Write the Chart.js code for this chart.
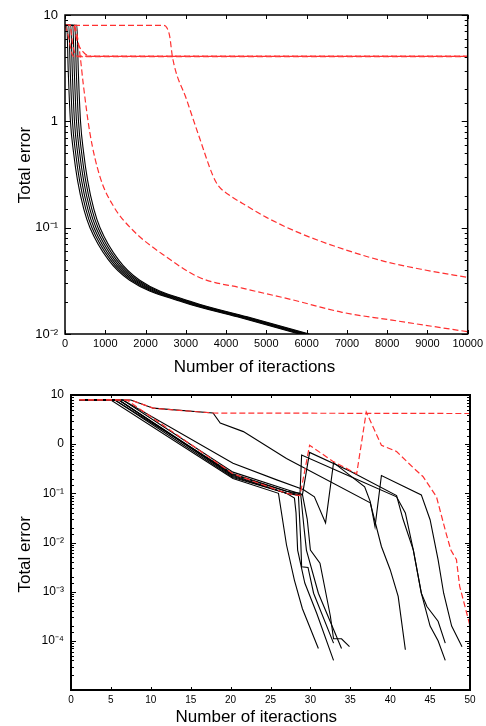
<!DOCTYPE html>
<html>
<head>
<meta charset="utf-8">
<script src="https://cdn.jsdelivr.net/npm/chart.js@4/dist/chart.umd.min.js"></script>
<style>
html, body { margin: 0; padding: 0; background: #fff; }
#topBox { position: absolute; left: 0; top: 0; width: 486px; height: 380px; }
#botBox { position: absolute; left: 0; top: 380px; width: 486px; height: 346px; }
</style>
</head>
<body>
<div id="topBox"><canvas id="topChart" width="486" height="380"></canvas></div>
<div id="botBox"><canvas id="botChart" width="486" height="346"></canvas></div>
<script>
// ---------- top chart: 0..10000 iterations ----------
const topYExps = [1, 0, -1, -2];
const topYLabels = ["10", "1", "10\u207B\u00B9", "10\u207B\u00B2"];

// black runs share the same error levels, each with its own iteration counts
const topBlackLevels = [8, 8, 3, 1, 0.5, 0.28, 0.15, 0.1, 0.05, 0.032, 0.02, 0.0145, 0.01];
const topBlackRuns = [
    [0, 45, 80, 135, 215, 310, 465, 620, 1075, 1605, 2915, 4275, 5815],
    [0, 95, 130, 185, 265, 360, 515, 670, 1125, 1655, 2965, 4325, 5865],
    [0, 145, 180, 235, 315, 410, 565, 720, 1175, 1705, 3015, 4375, 5915],
    [0, 195, 230, 285, 365, 460, 615, 770, 1225, 1755, 3065, 4425, 5965],
    [0, 245, 280, 335, 415, 510, 665, 820, 1275, 1805, 3115, 4475, 6015],
    [0, 295, 330, 385, 465, 560, 715, 870, 1325, 1855, 3165, 4525, 6065]
];
const topRedLate = [[0, 8], [2450, 8], [2530, 7.6], [2600, 6.3], [2670, 4.0], [3020, 1.6], [3340, 0.70],
    [3670, 0.31], [3800, 0.25], [4100, 0.2], [4400, 0.17], [5000, 0.125], [5890, 0.087], [6960, 0.062],
    [7950, 0.048], [8940, 0.04], [10000, 0.034]];
const topRedEarly = [[0, 8], [220, 8], [300, 6.5], [380, 4], [450, 2.3], [620, 0.77], [870, 0.30], [1200, 0.16],
    [1680, 0.095], [2520, 0.053], [3340, 0.034], [4400, 0.027], [5640, 0.021], [6880, 0.016], [8120, 0.0135], [10000, 0.0105]];
const topRedFlat1 = [[0, 8], [75, 6.5], [175, 4.3], [250, 4.05], [10000, 4.05]];
const topRedFlat2 = [[0, 8], [200, 8], [320, 5.4], [450, 4.5], [540, 4.2], [700, 4.08], [10000, 4.08]];
const topRedFlat3 = [[0, 8], [120, 8], [200, 5], [300, 4.1], [10000, 4.1]];

// ---------- bottom chart: 0..50 iterations ----------
const botYExps = [1, 0, -1, -2, -3, -4];
const botYLabels = ["10", "0", "10\u207B\u00B9", "10\u207B\u00B2", "10\u207B\u00B3", "10\u207B\u2074"];

const botRedFlat = [[1, 8], [7.5, 7.9], [10.3, 5.4], [17.8, 4.3], [50, 4.2]];
const botRedSpike = [[1, 8], [7, 7.9], [20.3, 0.25], [27, 0.1], [28.7, 0.09], [29.9, 0.95], [32.8, 0.45], [35.8, 0.25],
    [37, 4.5], [38.9, 0.95], [40.8, 0.71], [42.9, 0.33], [44.1, 0.22], [45.8, 0.085], [47, 0.0155], [47.6, 0.007],
    [48.3, 0.0045], [48.7, 0.0013], [49.6, 0.00036], [50, 0.0002]];
const botU1 = [[1, 8], [7.5, 7.9], [10.3, 5.4], [17.8, 4.3], [18.7, 2.7], [21.6, 1.8], [27, 0.51], [37.5, 0.064],
    [38.9, 0.0083], [40, 0.0028], [41, 0.0008], [41.9, 0.000066]];
const botU2 = [[1, 8], [6.5, 7.9], [20.3, 0.41], [25.7, 0.19], [29.1, 0.12], [30.5, 0.085], [31.9, 0.025], [32.9, 0.42],
    [36.8, 0.135], [37.5, 0.068], [38.1, 0.021], [38.9, 0.23], [43.9, 0.093], [45, 0.029], [46, 0.0045],
    [46.7, 0.00093], [47.7, 0.0002], [49, 0.000076]];
const botP1 = [[1, 8], [5.5, 7.9], [20.3, 0.25], [27, 0.11], [28.7, 0.1], [28.9, 0.6], [35, 0.22], [40.8, 0.085],
    [41.9, 0.04], [42.9, 0.007], [43.9, 0.00093], [45, 0.0002], [46, 0.0001], [46.9, 0.00004]];
const botP2 = [[1, 8], [6, 7.9], [20.3, 0.23], [27, 0.1], [29, 0.093], [29.9, 0.68], [35, 0.28], [40.8, 0.09],
    [41.6, 0.03], [42.9, 0.007], [43.9, 0.00093], [44.6, 0.0005], [46, 0.00025], [46.9, 0.00009]];
const botB1 = [[1, 8], [5, 7.9], [20.3, 0.2], [26, 0.1], [27, 0.009], [28, 0.0017], [29, 0.00045], [31, 0.00007]];
const botB2 = [[1, 8], [5.5, 7.9], [20.3, 0.21], [27, 0.1], [28, 0.08], [28.2, 0.04], [28.4, 0.007], [29.3, 0.0015],
    [30.8, 0.00036], [32.9, 0.00004]];
const botB3 = [[1, 8], [6, 7.9], [20.3, 0.22], [27, 0.1], [28.5, 0.09], [28.8, 0.01], [28.9, 0.0032], [29.7, 0.0031],
    [30.4, 0.00093], [32.9, 0.00009]];
const botB4 = [[1, 8], [6, 7.9], [20.3, 0.24], [27, 0.11], [28.8, 0.09], [29.2, 0.02], [29.5, 0.007], [31, 0.00093],
    [33.9, 0.00007]];
const botB5 = [[1, 8], [6.5, 7.9], [20.3, 0.27], [27, 0.12], [29, 0.095], [29.6, 0.03], [30, 0.007], [31.2, 0.0038],
    [32.5, 0.00032], [32.9, 0.00011], [33.9, 0.00011], [34.9, 0.000076]];

const RED = "#ff3030";
Chart.defaults.font.family = "'Liberation Sans', Arial, sans-serif";
Chart.defaults.color = "#000";

function pts(arr) {
    return arr.map(p => ({ x: p[0], y: p[1] }));
}
function redSet(arr, smooth) {
    return { data: pts(arr), borderColor: RED, borderWidth: 1.2, borderDash: [6, 3], pointRadius: 0,
        cubicInterpolationMode: smooth ? "monotone" : "default", tension: 0 };
}
function blackSet(arr, smooth) {
    return { data: pts(arr), borderColor: "#000", borderWidth: 1.1, pointRadius: 0,
        cubicInterpolationMode: smooth ? "monotone" : "default", tension: 0 };
}
function decade(v) {
    const e = Math.log10(v);
    const r = Math.round(e);
    return Math.abs(e - r) < 1e-6 ? r : null;
}

// frame round the plot, with ticks pointing inwards on all four sides
const frameTicks = {
    id: "frameTicks",
    afterDatasetsDraw(chart, args, opts) {
        const { ctx, chartArea: a, scales } = chart;
        ctx.save();
        ctx.strokeStyle = "#000";
        ctx.lineWidth = 1;
        ctx.beginPath();
        scales.y.ticks.forEach(t => {
            const py = Math.round(scales.y.getPixelForValue(t.value)) + 0.5;
            const len = decade(t.value) !== null ? opts.yMajor : opts.yMinor;
            ctx.moveTo(a.left, py); ctx.lineTo(a.left + len, py);
            ctx.moveTo(a.right, py); ctx.lineTo(a.right - len, py);
        });
        scales.x.ticks.forEach(t => {
            const px = Math.round(scales.x.getPixelForValue(t.value)) + 0.5;
            ctx.moveTo(px, a.top); ctx.lineTo(px, a.top + opts.xLen);
            ctx.moveTo(px, a.bottom); ctx.lineTo(px, a.bottom - opts.xLen);
        });
        ctx.stroke();
        ctx.lineWidth = opts.width;
        ctx.strokeRect(a.left, a.top, a.right - a.left, a.bottom - a.top);
        ctx.restore();
    }
};

// top chart
const topDatasets = [
    redSet(topRedLate, true), redSet(topRedEarly, true),
    redSet(topRedFlat1, true), redSet(topRedFlat2, true), redSet(topRedFlat3, true)
];
topBlackRuns.forEach(run => {
    topDatasets.push(blackSet(run.map((it, i) => [it, topBlackLevels[i]]), true));
});

new Chart(document.getElementById("topChart"), {
    type: "line",
    data: { datasets: topDatasets },
    options: {
        responsive: false,
        animation: false,
        events: [],
        layout: { padding: { top: 15, right: 17, left: 0, bottom: 0 } },
        plugins: {
            legend: { display: false },
            tooltip: { enabled: false },
            frameTicks: { width: 1.5, yMajor: 6, yMinor: 3, xLen: 4 }
        },
        scales: {
            x: {
                type: "linear", min: 0, max: 10000,
                grid: { display: false, drawTicks: false }, border: { display: false },
                afterFit(s) { s.height = 46; },
                ticks: { stepSize: 1000, padding: 3, maxRotation: 0, font: { size: 11 },
                    callback: v => String(v) },
                title: { display: true, text: "Number of iteractions     ", font: { size: 17, lineHeight: 1 },
                    padding: { top: 0, bottom: 4.5 } }
            },
            y: {
                type: "logarithmic", min: 0.01, max: 10,
                grid: { display: false, drawTicks: false }, border: { display: false },
                afterFit(s) { s.width = 65; },
                ticks: { autoSkip: false, padding: 7, font: { size: 13 },
                    callback: v => {
                        const e = decade(v);
                        const k = topYExps.indexOf(e);
                        return k >= 0 ? topYLabels[k] : "";
                    } },
                title: { display: true, text: "    Total error", font: { size: 17, lineHeight: 1 },
                    padding: { top: 16.5, bottom: 0 } }
            }
        }
    },
    plugins: [frameTicks]
});

// bottom chart
const botDatasets = [
    redSet(botRedFlat), redSet(botRedSpike),
    blackSet(botU1), blackSet(botU2), blackSet(botP1), blackSet(botP2),
    blackSet(botB1), blackSet(botB2), blackSet(botB3), blackSet(botB4), blackSet(botB5)
];

new Chart(document.getElementById("botChart"), {
    type: "line",
    data: { datasets: botDatasets },
    options: {
        responsive: false,
        animation: false,
        events: [],
        layout: { padding: { top: 15, right: 16, left: 0, bottom: 0 } },
        plugins: {
            legend: { display: false },
            tooltip: { enabled: false },
            frameTicks: { width: 2, yMajor: 5, yMinor: 3, xLen: 3 }
        },
        scales: {
            x: {
                type: "linear", min: 0, max: 50,
                grid: { display: false, drawTicks: false }, border: { display: false },
                afterFit(s) { s.height = 36; },
                ticks: { stepSize: 5, padding: 4, maxRotation: 0, font: { size: 10 } },
                title: { display: true, text: "Number of iteractions      ", font: { size: 17, lineHeight: 1 },
                    padding: { top: 0, bottom: 0.5 } }
            },
            y: {
                type: "logarithmic", min: 0.00001, max: 10,
                grid: { display: false, drawTicks: false }, border: { display: false },
                afterFit(s) { s.width = 71; },
                ticks: { autoSkip: false, padding: 7, font: { size: 12 },
                    callback: v => {
                        const e = decade(v);
                        const k = botYExps.indexOf(e);
                        return k >= 0 ? botYLabels[k] : "";
                    } },
                title: { display: true, text: "Total error     ", font: { size: 17, lineHeight: 1 },
                    padding: { top: 16.5, bottom: 0 } }
            }
        }
    },
    plugins: [frameTicks]
});
</script>
</body>
</html>
